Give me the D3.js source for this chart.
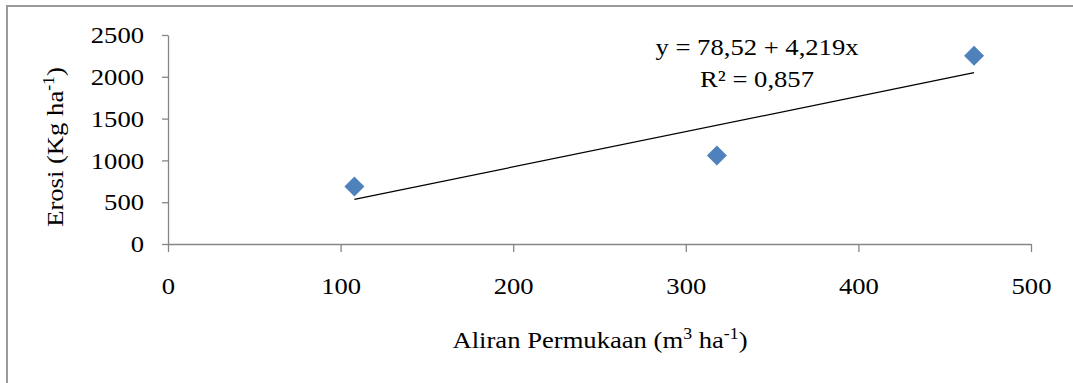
<!DOCTYPE html>
<html>
<head>
<meta charset="utf-8">
<script src="https://cdn.jsdelivr.net/npm/d3@7"></script>
<style>
  body { margin: 0; background: #fff; }
  svg text { font-family: "Liberation Serif", "Times New Roman", serif; fill: #000; }
</style>
</head>
<body>
<script>
// data
var aliran = [108, 318, 467];        // x: aliran permukaan (m3/ha)
var erosi = [688, 1060, 2252];       // y: erosi (kg/ha)
var xTicks = [0, 100, 200, 300, 400, 500];
var yTicks = [0, 500, 1000, 1500, 2000, 2500];
// trendline y = a + b x
var intercept = 78.52;
var slope = 4.219;
var eqLines = ["y = 78,52 + 4,219x", "R² = 0,857"];

var width = 1073, height = 383;
var fontSize = 24;
var sx = 1.11;   // text in the picture is a bit wide
var serif = '"Liberation Serif", "Times New Roman", serif';

var svg = d3.select("body").append("svg")
    .attr("width", width)
    .attr("height", height);

// frame (only top and left edges show)
svg.append("path")
    .attr("d", "M7,383 V6 H1073")
    .attr("fill", "none")
    .attr("stroke", "#9a9a9a")
    .attr("stroke-width", 2);

var x = d3.scaleLinear().domain([0, 500]).range([168, 1031]);
var y = d3.scaleLinear().domain([0, 2500]).range([244, 35]);

// x axis
var gx = svg.append("g")
    .attr("transform", "translate(0," + y(0) + ")")
    .call(d3.axisBottom(x).tickValues(xTicks).tickFormat(d3.format("d"))
        .tickSize(8).tickSizeOuter(0).tickPadding(25));

// y axis
var gy = svg.append("g")
    .attr("transform", "translate(" + x(0) + ",0)")
    .call(d3.axisLeft(y).tickValues(yTicks).tickFormat(d3.format("d"))
        .tickSize(6).tickSizeOuter(0).tickPadding(18));

[gx, gy].forEach(function(g) {
    g.attr("font-family", serif).attr("font-size", fontSize);
    g.select(".domain").attr("stroke", "#868686").attr("stroke-width", 1.3);
    g.selectAll(".tick line").attr("stroke", "#868686").attr("stroke-width", 1.3);
    g.selectAll(".tick text").attr("fill", "#000");
});
gx.selectAll(".tick text").attr("transform", "scale(" + sx + ",1)");
gy.selectAll(".tick text")
    .attr("x", -24 / sx)
    .attr("transform", "scale(" + sx + ",1)");

// trendline
var xr = d3.extent(aliran);
var line = d3.line()
    .x(function(d) { return x(d); })
    .y(function(d) { return y(intercept + slope * d); });
svg.append("path")
    .datum(xr)
    .attr("d", line)
    .attr("fill", "none")
    .attr("stroke", "#000")
    .attr("stroke-width", 1.3);

// points
var diamond = d3.symbol().type(d3.symbolSquare).size(200);
svg.selectAll(".pt")
    .data(aliran)
    .enter()
    .append("path")
    .attr("class", "pt")
    .attr("d", diamond)
    .attr("transform", function(d, i) {
        return "translate(" + x(d) + "," + y(erosi[i]) + ") rotate(45)";
    })
    .attr("fill", "#4f81bd");

function label(tx, ty, rot) {
    return svg.append("text")
        .attr("transform", "translate(" + tx + "," + ty + ")" + (rot ? " rotate(" + rot + ")" : "") + " scale(" + sx + ",1)")
        .attr("text-anchor", "middle")
        .style("font-size", fontSize + "px");
}

// equation
label(757, 55).text(eqLines[0]);
label(757, 87).text(eqLines[1]);

// x axis title
var xt = label(600, 348);
xt.append("tspan").text("Aliran Permukaan (m");
xt.append("tspan").attr("baseline-shift", "super").style("font-size", "16px").text("3");
xt.append("tspan").text(" ha");
xt.append("tspan").attr("baseline-shift", "super").style("font-size", "16px").text("-1");
xt.append("tspan").text(")");

// y axis title
var yt = label(63, 147, -90);
yt.append("tspan").text("Erosi (Kg ha");
yt.append("tspan").attr("baseline-shift", "super").style("font-size", "16px").text("-1");
yt.append("tspan").text(")");
</script>
</body>
</html>
